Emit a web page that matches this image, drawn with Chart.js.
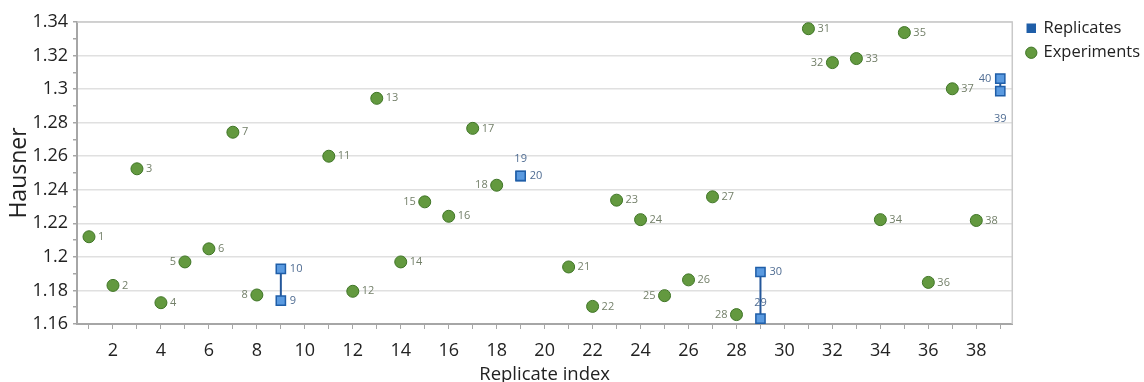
<!DOCTYPE html>
<html>
<head>
<meta charset="utf-8">
<script src="https://cdn.jsdelivr.net/npm/chart.js@4.4.1/dist/chart.umd.min.js"></script>
<style>
  html, body { margin: 0; padding: 0; background: #fff; }
  #wrap { width: 1144px; height: 382px; }
</style>
</head>
<body>
<div id="wrap"><canvas id="myChart"></canvas></div>
<script>
// Experiments: replicate index and Hausner ratio
const expIndex = [1, 2, 3, 4, 5, 6, 7, 8, 11, 12, 13, 14, 15, 16, 17, 18,
  21, 22, 23, 24, 25, 26, 27, 28, 31, 32, 33, 34, 35, 36, 37, 38];
const expValues = [1.212, 1.183, 1.2525, 1.1727, 1.197, 1.2048, 1.2743, 1.1773,
  1.26, 1.1795, 1.2945, 1.197, 1.2328, 1.2242, 1.2766, 1.2427,
  1.194, 1.1705, 1.2338, 1.2222, 1.1769, 1.1863, 1.2358, 1.1656,
  1.336, 1.3158, 1.3182, 1.2222, 1.3337, 1.1848, 1.3002, 1.2217];

// Replicates: each pair sits on one x position
const repIndex = [9, 10, 19, 20, 29, 30, 39, 40];
const repX = [9, 9, 19, 19, 29, 29, 39, 39];
const repValues = [1.1739, 1.1928, 1.2481, 1.2483, 1.1632, 1.191, 1.2988, 1.3062];

// ticks
const xTicks = [1, 2, 3, 4, 5, 6, 7, 8, 9, 10, 11, 12, 13, 14, 15, 16, 17, 18, 19, 20,
  21, 22, 23, 24, 25, 26, 27, 28, 29, 30, 31, 32, 33, 34, 35, 36, 37, 38, 39];
const xLabels = [2, 4, 6, 8, 10, 12, 14, 16, 18, 20, 22, 24, 26, 28, 30, 32, 34, 36, 38];
const yTicks = [1.16, 1.17, 1.18, 1.19, 1.2, 1.21, 1.22, 1.23, 1.24, 1.25, 1.26,
  1.27, 1.28, 1.29, 1.3, 1.31, 1.32, 1.33, 1.34];
const yLabels = [1.16, 1.18, 1.2, 1.22, 1.24, 1.26, 1.28, 1.3, 1.32, 1.34];

// label placement exceptions [dx, dy]  (default: right of the point)
const labelOffsets = {
  5: [-9, 0], 8: [-9, 0], 15: [-9, 0], 18: [-9, 0], 25: [-9, 0], 28: [-9, 0], 32: [-9, 0],
  19: [0, -17], 29: [0, -16], 40: [-9, 0], 39: [0, 28]
};

const expData = expIndex.map((id, i) => ({ x: id, y: expValues[i], id: id }));
const repData = [];
repIndex.forEach((id, i) => {
  repData.push({ x: repX[i], y: repValues[i], id: id });
  if (i % 2 === 1) repData.push({ x: repX[i], y: null, id: null });
});

Chart.defaults.font.family = '"Open Sans", sans-serif';
Chart.defaults.color = '#222';

const pointLabels = {
  id: 'pointLabels',
  afterDatasetsDraw(chart) {
    const ctx = chart.ctx;
    ctx.save();
    ctx.font = '11px "Open Sans", sans-serif';
    ctx.textBaseline = 'middle';
    chart.data.datasets.forEach((ds, di) => {
      const meta = chart.getDatasetMeta(di);
      meta.data.forEach((el, i) => {
        const p = ds.data[i];
        if (!p || p.y == null) return;
        const off = labelOffsets[p.id] || [9, 0];
        ctx.fillStyle = ds.labelColor;
        ctx.textAlign = off[0] < 0 ? 'right' : (off[0] === 0 ? 'center' : 'left');
        ctx.fillText(String(p.id), el.x + off[0], el.y + off[1]);
      });
    });
    ctx.restore();
  }
};

// top and right edge of the plot frame
const plotFrame = {
  id: 'plotFrame',
  beforeDatasetsDraw(chart) {
    const { ctx, chartArea: a } = chart;
    ctx.save();
    ctx.strokeStyle = '#c9c9c9';
    ctx.lineWidth = 1.5;
    ctx.beginPath();
    ctx.moveTo(a.left, a.top);
    ctx.lineTo(a.right, a.top);
    ctx.lineTo(a.right, a.bottom);
    ctx.stroke();
    ctx.restore();
  }
};

// nudge the legend a little to the right
const legendShift = {
  id: 'legendShift',
  afterLayout(chart) {
    if (chart.legend) {
      chart.legend.left += 7;
      chart.legend.right += 7;
    }
  }
};

const ctx = document.getElementById('myChart').getContext('2d');

new Chart(ctx, {
  type: 'scatter',
  data: {
    datasets: [{
      label: 'Replicates',
      data: repData,
      showLine: true,
      spanGaps: false,
      borderColor: '#24579a',
      borderWidth: 2,
      pointStyle: 'rect',
      pointRadius: 6.5,
      pointBackgroundColor: '#5a9ae0',
      pointBorderColor: '#1f5ea8',
      pointBorderWidth: 1.5,
      backgroundColor: '#1f5ea8',
      labelColor: '#4f6c92'
    }, {
      label: 'Experiments',
      data: expData,
      pointStyle: 'circle',
      pointRadius: 6,
      pointBackgroundColor: '#63993f',
      pointBorderColor: '#3f7526',
      pointBorderWidth: 1,
      backgroundColor: '#63993f',
      borderColor: '#3f7526',
      labelColor: '#74806a'
    }]
  },
  options: {
    responsive: true,
    maintainAspectRatio: false,
    animation: false,
    layout: {
      padding: { top: 12, right: 1, left: 0, bottom: -4 }
    },
    scales: {
      x: {
        type: 'linear',
        min: 0.5,
        max: 39.5,
        afterBuildTicks: axis => { axis.ticks = xTicks.map(v => ({ value: v })); },
        afterFit: axis => { axis.height = 62; },
        border: { display: true, color: '#a6a6a6', width: 2 },
        grid: {
          drawOnChartArea: false,
          drawTicks: true,
          tickLength: 5,
          tickColor: '#a6a6a6'
        },
        ticks: {
          autoSkip: false,
          maxRotation: 0,
          padding: 11,
          color: '#222',
          font: { size: 18 },
          callback: v => xLabels.includes(v) ? String(v) : ''
        },
        title: {
          display: true,
          text: 'Replicate index',
          color: '#222',
          font: { size: 18.5 },
          padding: { top: 0, bottom: 0 }
        }
      },
      y: {
        min: 1.16,
        max: 1.34,
        afterBuildTicks: axis => { axis.ticks = yTicks.map(v => ({ value: v })); },
        afterFit: axis => { axis.paddingTop = 22; axis.width = 77; },
        border: { display: true, color: '#a6a6a6', width: 2 },
        grid: {
          drawTicks: true,
          tickLength: 4,
          tickColor: '#a6a6a6',
          lineWidth: 1.5,
          color: c => (c.tick && yLabels.includes(c.tick.value)) ? '#e0e0e0' : 'rgba(0,0,0,0)'
        },
        ticks: {
          autoSkip: false,
          padding: 5,
          color: '#222',
          font: { size: 18 },
          callback: v => yLabels.includes(v) ? String(v) : ''
        },
        title: {
          display: true,
          text: 'Hausner',
          color: '#222',
          font: { size: 23 },
          padding: { top: 6, bottom: 0 }
        }
      }
    },
    plugins: {
      legend: {
        position: 'right',
        align: 'start',
        labels: {
          usePointStyle: true,
          boxWidth: 8,
          boxHeight: 8,
          padding: 8,
          color: '#222',
          font: { size: 16.5 },
          generateLabels: chart => Chart.defaults.plugins.legend.labels.generateLabels(chart).map(l => {
            if (l.text === 'Replicates') l.fillStyle = '#1f5ea8';
            return l;
          })
        }
      },
      tooltip: { enabled: false }
    }
  },
  plugins: [plotFrame, pointLabels, legendShift]
});
</script>
</body>
</html>
